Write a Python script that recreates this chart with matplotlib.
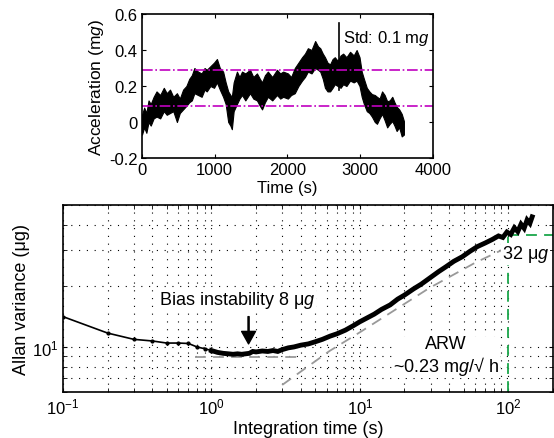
import matplotlib
matplotlib.use("Agg")
import matplotlib.pyplot as plt
import numpy as np

plt.rcParams['font.family'] = ['Liberation Sans', 'DejaVu Sans']
plt.rcParams['mathtext.fontset'] = 'custom'
plt.rcParams['mathtext.rm'] = 'Liberation Sans'
plt.rcParams['mathtext.it'] = 'Liberation Sans:italic'
plt.rcParams['xtick.direction'] = 'in'
plt.rcParams['ytick.direction'] = 'in'

# --- top panel: acceleration record (envelope of the noisy trace) ---
t = [0, 30, 60, 90, 120, 160, 200, 250, 300, 340, 385, 430, 480, 520, 565,
     610, 650, 685, 720, 770, 820, 860, 890, 940, 990, 1030, 1070, 1115, 1150,
     1185, 1215, 1235, 1260, 1305, 1340, 1375, 1420, 1485, 1530, 1580, 1620,
     1650, 1690, 1730, 1790, 1855, 1900, 1940, 2005, 2050, 2100, 2150, 2200,
     2240, 2280, 2330, 2380, 2420, 2450, 2485, 2515, 2550, 2585, 2620, 2650,
     2690, 2730, 2765, 2810, 2860, 2910, 2950, 2990, 3020, 3050, 3090, 3125,
     3160, 3200, 3230, 3265, 3300, 3335, 3370, 3405, 3440, 3470, 3500, 3535,
     3570, 3600]
acc_lo = [-0.07, -0.03, -0.06, 0.00, -0.02, 0.02, 0.03, 0.02, 0.06, 0.04,
          0.05, 0.06, 0.00, 0.05, 0.07, 0.09, 0.11, 0.12, 0.16, 0.15, 0.14,
          0.18, 0.17, 0.20, 0.19, 0.22, 0.18, 0.14, 0.10, 0.00, -0.02, -0.04,
          0.06, 0.10, 0.13, 0.15, 0.12, 0.16, 0.13, 0.12, 0.09, 0.07, 0.11,
          0.14, 0.12, 0.15, 0.13, 0.14, 0.13, 0.15, 0.16, 0.20, 0.23, 0.25,
          0.28, 0.27, 0.30, 0.29, 0.28, 0.24, 0.19, 0.17, 0.17, 0.19, 0.21,
          0.20, 0.19, 0.21, 0.20, 0.23, 0.22, 0.23, 0.20, 0.14, 0.10, 0.06,
          0.05, 0.03, 0.00, -0.01, 0.02, 0.045, 0.01, -0.03, -0.01, 0.005,
          -0.02, -0.05, -0.03, -0.08, -0.07]
acc_hi = [0.04, 0.08, 0.05, 0.12, 0.10, 0.14, 0.17, 0.15, 0.19, 0.16, 0.18,
          0.14, 0.16, 0.13, 0.18, 0.20, 0.24, 0.26, 0.30, 0.28, 0.27, 0.30,
          0.29, 0.31, 0.33, 0.35, 0.30, 0.28, 0.22, 0.17, 0.15, 0.14, 0.22,
          0.28, 0.25, 0.28, 0.27, 0.29, 0.25, 0.27, 0.24, 0.22, 0.26, 0.28,
          0.25, 0.29, 0.27, 0.28, 0.27, 0.25, 0.30, 0.33, 0.36, 0.38, 0.41,
          0.40, 0.45, 0.42, 0.41, 0.38, 0.36, 0.33, 0.32, 0.35, 0.36, 0.34,
          0.37, 0.38, 0.36, 0.39, 0.37, 0.40, 0.36, 0.28, 0.24, 0.19, 0.17,
          0.155, 0.15, 0.14, 0.13, 0.17, 0.15, 0.115, 0.12, 0.14, 0.11, 0.085,
          0.07, 0.045, 0.005]
spike_t = [2710, 2710]
spike_v = [0.18, 0.55]
std_lines = [0.09, 0.29]

# --- bottom panel: Allan deviation ---
tau_a = [0.1, 0.2, 0.3, 0.4, 0.5, 0.6, 0.7, 0.8, 0.9, 1.0]
adev_a = [14.1, 11.7, 10.9, 10.7, 10.45, 10.45, 10.4, 10.0, 9.8, 9.6]
tau_b = [1.0, 1.1, 1.2, 1.3, 1.4, 1.5, 1.6, 1.7, 1.8, 1.9, 2.0, 2.2, 2.4, 2.6,
         2.8, 3.0, 3.3, 3.6, 4.0, 4.5, 5.0, 5.6, 6.3, 7.0, 8.0, 9.0, 10, 11,
         12.5, 14, 16, 18, 20, 23, 26, 30, 34, 38, 43, 49, 55, 62, 70, 78, 86,
         92, 98, 104, 110, 116, 122, 128, 134, 140, 145]
adev_b = [9.6, 9.4, 9.3, 9.25, 9.2, 9.25, 9.2, 9.25, 9.3, 9.5, 9.45, 9.55, 9.5,
          9.6, 9.5, 9.7, 9.9, 10.0, 10.2, 10.35, 10.6, 10.9, 11.3, 11.6, 12.1,
          12.7, 13.3, 13.8, 14.5, 15.3, 16.1, 17.2, 18.0, 19.3, 20.4, 22.0,
          23.5, 24.8, 26.4, 27.8, 29.5, 31.2, 32.5, 33.8, 35.2, 34.6, 36.8,
          35.8, 38.6, 37.0, 40.2, 38.4, 42.2, 40.6, 43.7]
bias_tau = [0.77, 4.0]
bias_val = [8.9, 8.9]
arw_tau = [3.0, 6.25, 10, 29.4, 60, 95]
arw_val = [6.5, 9.55, 11.8, 19.5, 26, 30.5]
mark_tau = 100
mark_val = 35.6

fig = plt.figure(figsize=(5.54, 4.39), dpi=100)

ax1 = fig.add_axes([0.2563, 0.6378, 0.5253, 0.328])
ax1.fill_between(t, acc_lo, acc_hi, color='k', linewidth=0.8, edgecolor='k')
ax1.plot(spike_t, spike_v, color='k', linewidth=1.2)
for v in std_lines:
    ax1.axhline(v, color='#c000c0', linestyle='-.', linewidth=1.2)
ax1.text(2763, 0.47, 'Std: 0.1 m$g$', fontsize=12, va='center', ha='left')
ax1.set_xlim(0, 4000)
ax1.set_ylim(-0.2, 0.6)
ax1.set_xticks([0, 1000, 2000, 3000, 4000])
ax1.set_yticks([-0.2, 0, 0.2, 0.4, 0.6])
ax1.set_yticklabels(['-0.2', '0', '0.2', '0.4', '0.6'])
ax1.tick_params(labelsize=12, top=True, right=True, length=3, pad=3)
ax1.set_xlabel('Time (s)', fontsize=12, labelpad=2)
ax1.set_ylabel('Acceleration (m$g$)', fontsize=12.5, labelpad=2)
for s in ax1.spines.values():
    s.set_linewidth(1.2)

ax2 = fig.add_axes([0.1137, 0.1048, 0.8843, 0.426])
ax2.set_xscale('log')
ax2.set_yscale('log')
ax2.grid(True, which='both', color='k', linestyle=(0, (1, 6)), linewidth=0.8)
ax2.plot(bias_tau, bias_val, color='0.6', linestyle=(0, (6, 4)), linewidth=1.3)
ax2.plot(arw_tau, arw_val, color='0.6', linestyle=(0, (6, 4)), linewidth=1.3)
ax2.plot([mark_tau, mark_tau], [6, mark_val], color='#1aa64a',
         linestyle=(0, (6, 4)), linewidth=1.3)
ax2.plot([mark_tau, 200], [mark_val, mark_val], color='#1aa64a',
         linestyle=(0, (6, 4)), linewidth=1.3)
ax2.plot(tau_a, adev_a, color='k', linewidth=1.2, marker='.', markersize=4)
ax2.plot(tau_b, adev_b, color='k', linewidth=3.5, solid_joinstyle='miter')
ax2.annotate('', xy=(1.78, 10.35), xytext=(1.78, 14.1),
             arrowprops=dict(facecolor='k', edgecolor='k', width=0.8,
                             headwidth=10, headlength=9, shrink=0))
wb = dict(facecolor='white', edgecolor='none', pad=0.5)
ax2.text(1.48, 17.2, 'Bias instability 8 μ$g$', fontsize=13, ha='center',
         va='center', bbox=wb)
ax2.text(38, 9.0, 'ARW\n~0.23 m$g$/√ h', fontsize=13, ha='center',
         va='center', multialignment='center', linespacing=1.1, bbox=wb)
ax2.text(91, 28.7, '32 μ$g$', fontsize=13, ha='left', va='center', bbox=wb)
ax2.set_xlim(0.1, 200)
ax2.set_ylim(6, 50)
ax2.set_xticks([0.1, 1, 10, 100])
ax2.set_xticklabels(['$10^{-1}$', '$10^{0}$', '$10^{1}$', '$10^{2}$'])
ax2.set_yticks([10])
ax2.set_yticklabels(['$10^{1}$'])
ax2.yaxis.set_minor_formatter(matplotlib.ticker.NullFormatter())
ax2.tick_params(which='both', labelsize=12, top=True, right=True, length=3)
ax2.set_xlabel('Integration time (s)', fontsize=13, labelpad=2)
ax2.set_ylabel('Allan variance (μg)', fontsize=13, labelpad=1)
for s in ax2.spines.values():
    s.set_linewidth(1.2)

fig.savefig('out.png', dpi=100)
